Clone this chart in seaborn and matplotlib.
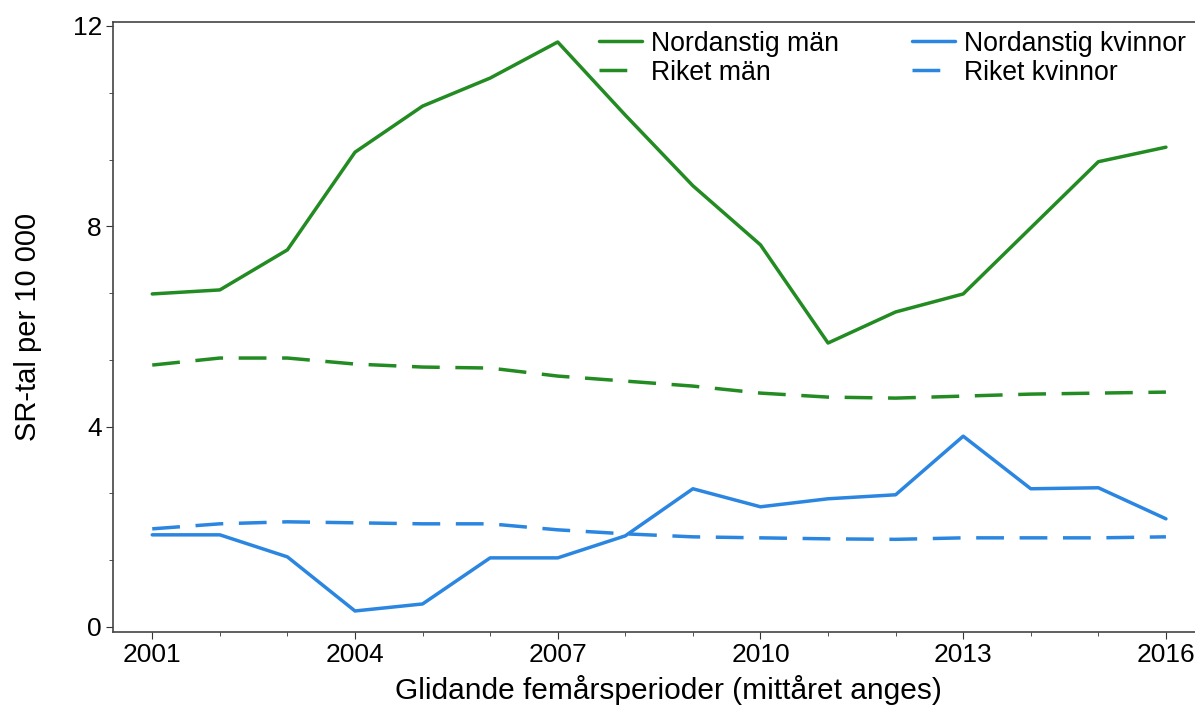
import matplotlib
matplotlib.use("Agg")
import matplotlib.pyplot as plt
import numpy as np
import pandas as pd
import seaborn as sns
from matplotlib.ticker import MultipleLocator

years = list(range(2001, 2017))
nordanstig_man = [6.65, 6.73, 7.53, 9.48, 10.40, 10.96, 11.68, 10.22,
                  8.81, 7.63, 5.67, 6.29, 6.65, 7.97, 9.29, 9.58]
riket_man = [5.23, 5.37, 5.37, 5.25, 5.19, 5.17, 5.01, 4.91,
             4.81, 4.67, 4.59, 4.57, 4.61, 4.65, 4.67, 4.69]
nordanstig_kvinnor = [1.84, 1.84, 1.40, 0.32, 0.46, 1.38, 1.38, 1.82,
                      2.76, 2.40, 2.56, 2.64, 3.81, 2.76, 2.78, 2.16]
riket_kvinnor = [1.96, 2.06, 2.10, 2.08, 2.06, 2.06, 1.94, 1.86,
                 1.80, 1.78, 1.76, 1.75, 1.78, 1.78, 1.78, 1.80]

series = {
    "Nordanstig män": nordanstig_man,
    "Riket män": riket_man,
    "Nordanstig kvinnor": nordanstig_kvinnor,
    "Riket kvinnor": riket_kvinnor,
}
order = list(series.keys())

df = pd.concat(
    [pd.DataFrame({"year": years, "value": vals, "serie": name}) for name, vals in series.items()],
    ignore_index=True,
)

green = "#228b22"
blue = "#2a86e0"
palette = {"Nordanstig män": green, "Riket män": green,
           "Nordanstig kvinnor": blue, "Riket kvinnor": blue}
dashes = {"Nordanstig män": "", "Riket män": (8, 4.5),
          "Nordanstig kvinnor": "", "Riket kvinnor": (8, 4.5)}

sns.set_style("ticks")
plt.rcParams["font.family"] = ["Liberation Sans", "DejaVu Sans"]
plt.rcParams["text.color"] = "black"
plt.rcParams["axes.labelcolor"] = "black"
plt.rcParams["xtick.color"] = "black"
plt.rcParams["ytick.color"] = "black"

fig = plt.figure(figsize=(11.95, 7.09), dpi=100)
ax = fig.add_axes([0.0946, 0.1086, 0.9054, 0.8604])

sns.lineplot(data=df, x="year", y="value", hue="serie", style="serie",
             hue_order=order, style_order=order, palette=palette,
             dashes=dashes, linewidth=2.5, ax=ax)

ax.set_xlim(2000.42, 2016.43)
ax.set_ylim(-0.1, 12.08)
ax.set_xticks([2001, 2004, 2007, 2010, 2013, 2016])
ax.xaxis.set_minor_locator(MultipleLocator(1))
ax.set_yticks([0, 4, 8, 12])
ax.yaxis.set_minor_locator(MultipleLocator(4 / 3))
ax.tick_params(axis="both", which="major", labelsize=19, length=5, color="#333333", pad=3)
ax.tick_params(axis="both", which="minor", length=3, color="#333333")

for side in ["left", "bottom", "top"]:
    ax.spines[side].set_color("#444444")
    ax.spines[side].set_linewidth(1.2)
ax.spines["right"].set_visible(False)

ax.set_xlabel("Glidande femårsperioder (mittåret anges)", fontsize=21.5)
ax.xaxis.set_label_coords(0.513, -0.071)
ax.set_ylabel("SR-tal per 10 000", fontsize=21)
ax.yaxis.set_label_coords(-0.066, 0.5)

handles, labels = ax.get_legend_handles_labels()
ax.legend(handles, labels, ncol=2, loc="upper right", frameon=False,
          fontsize=19.2, handlelength=1.6, handletextpad=0.35,
          columnspacing=2.75, labelspacing=0.12, borderpad=0,
          bbox_to_anchor=(0.992, 0.986), borderaxespad=0)

fig.savefig("out.png", dpi=100)
